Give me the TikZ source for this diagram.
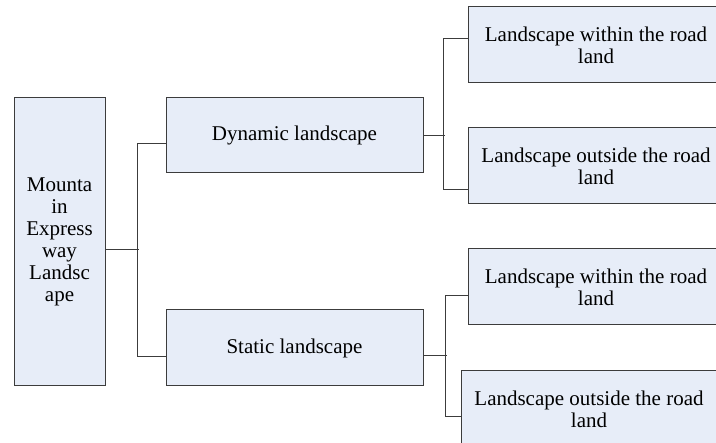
\documentclass[tikz,border=0pt]{standalone}
\usepackage{fontspec}
\setmainfont{Liberation Serif}
\definecolor{boxfill}{RGB}{231,237,248}
\definecolor{boxline}{RGB}{60,60,60}

\begin{document}
\begin{tikzpicture}[x=1pt, y=-1pt, line width=1pt,
    font=\fontsize{21}{22}\selectfont,
    box/.style={draw=boxline, fill=boxfill, inner sep=0pt, align=center},
    link/.style={draw=boxline, line width=0.9pt}]
  \useasboundingbox (0,0) rectangle (716,443);
  \clip (0,0) rectangle (716,443);
  % root
  \node[box, minimum width=91pt, minimum height=288pt] (root) at (59.5,242)
    {Mounta\\in\\Express\\way\\Landsc\\ape};
  % middle level
  \node[box, minimum width=257pt, minimum height=75pt] (dyn) at (294.5,135.5) {Dynamic landscape};
  \node[box, minimum width=257pt, minimum height=76pt] (stat) at (294.5,348) {Static landscape};
  % leaves
  \node[box, minimum width=256pt, minimum height=76pt] (dynin) at (596,45) {Landscape within the road\\land};
  \node[box, minimum width=256pt, minimum height=76pt] (dynout) at (596,166) {Landscape outside the road\\land};
  \node[box, minimum width=256pt, minimum height=76pt] (statin) at (596,287) {Landscape within the road\\land};
  \node[box, minimum width=256pt, minimum height=76pt] (statout) at (589,409) {Landscape outside the road\\land};
  % root to middle level
  \draw[link] ([yshift=-7pt]root.east) -- ++(33,0);
  \draw[link] ([yshift=-7.5pt]dyn.west) -- ++(-28,0) |- ([yshift=-8pt]stat.west);
  % middle level to leaves
  \draw[link] (dyn.east) -- ++(21,0);
  \draw[link] ([yshift=7pt]dynin.west) -- ++(-24,0) |- ([yshift=-23pt]dynout.west);
  \draw[link] ([yshift=-7pt]stat.east) -- ++(23,0);
  \draw[link] ([yshift=-8pt]statin.west) -- ++(-22,0) |- ([yshift=-7pt]statout.west);
\end{tikzpicture}
\end{document}
